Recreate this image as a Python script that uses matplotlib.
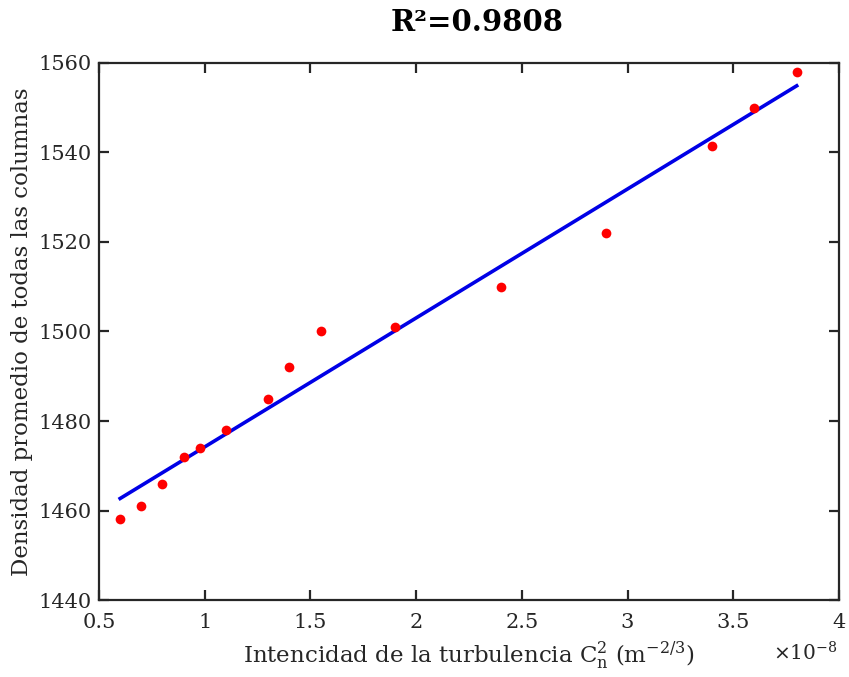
import matplotlib
matplotlib.use("Agg")
import matplotlib.pyplot as plt
import numpy as np

# measured points (x in units of 1e-8)
cn2 = [0.6, 0.7, 0.8, 0.9, 0.98, 1.1, 1.3, 1.4, 1.55, 1.9, 2.4, 2.9, 3.4, 3.6, 3.8]
densidad = [1458, 1461, 1466, 1472, 1474, 1478, 1485, 1492, 1500, 1501,
            1510, 1522, 1541.5, 1550, 1558]
xticks = [0.5, 1, 1.5, 2, 2.5, 3, 3.5, 4]
xticklabels = ['0.5', '1', '1.5', '2', '2.5', '3', '3.5', '4']
yticks = [1440, 1460, 1480, 1500, 1520, 1540, 1560]

plt.rcParams['font.family'] = ['DejaVu Serif']
axcol = '#262626'

fig = plt.figure(figsize=(8.49, 6.77), dpi=100)
ax = fig.add_axes([0.1166, 0.1137, 0.8716, 0.7933])

# linear fit over the data
x = np.array(cn2)
y = np.array(densidad)
p = np.polyfit(x, y, 1)
xf = np.array([x.min(), x.max()])
ax.plot(xf, np.polyval(p, xf), color='#0000e6', linewidth=2.6, zorder=2)
ax.plot(x, y, 'o', color='#ff0000', markersize=7, markeredgewidth=0, zorder=3)

ax.set_xlim(0.5, 4)
ax.set_ylim(1440, 1560)
ax.set_xticks(xticks)
ax.set_xticklabels(xticklabels)
ax.set_yticks(yticks)

for s in ax.spines.values():
    s.set_color(axcol)
    s.set_linewidth(1.6)
ax.tick_params(direction='in', length=7, width=1.6, color=axcol,
               top=True, right=True, labelsize=15, labelcolor=axcol)
ax.tick_params(axis='x', pad=9)
ax.tick_params(axis='y', pad=5)
for lab in ax.get_xticklabels() + ax.get_yticklabels():
    lab.set_fontweight('light')

ax.set_xlabel(r'Intencidad de la turbulencia C$_\mathregular{n}^\mathregular{2}$ (m$^\mathregular{-2/3}$)',
              fontsize=16.5, color=axcol)
ax.xaxis.set_label_coords(0.5, -0.074)
ax.set_ylabel('Densidad promedio de todas las columnas', fontsize=16.5, color=axcol, labelpad=4)
ax.text(0.998, -0.098, r'$\times$10$^\mathregular{-8}$', transform=ax.transAxes,
        ha='right', va='center', fontsize=14.5, color=axcol)

fig.text(0.562, 0.967, 'R²=0.9808', ha='center', va='center',
         fontsize=21, fontweight='bold', color='black')

fig.savefig('out.png', dpi=100)
